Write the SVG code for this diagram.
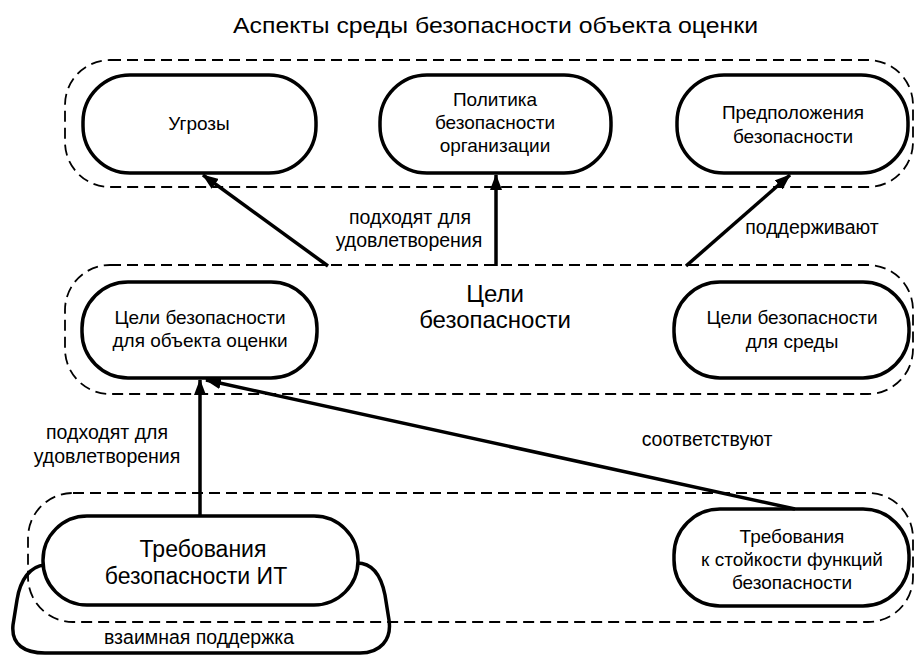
<svg xmlns="http://www.w3.org/2000/svg" width="916" height="656" viewBox="0 0 916 656">
<defs>
<style>
.bg{fill:#fff}
.grp{fill:none;stroke:#000;stroke-width:1.8;stroke-dasharray:11 6}
.node{fill:#fff;stroke:#000;stroke-width:3.5}
.outline{fill:none;stroke:#000;stroke-width:3.5}
.t{font-family:"Liberation Sans",Arial,sans-serif;fill:#000;text-anchor:middle}
.n{font-size:19px}
.l{font-size:19.5px}
.big{font-size:24px}
.it{font-size:23px}
.conn{stroke:#000;stroke-width:3.5;fill:none;marker-end:url(#ah)}
</style>
<marker id="ah" markerUnits="userSpaceOnUse" markerWidth="16" markerHeight="12" refX="15" refY="6" orient="auto">
<path d="M0,0 L16,6 L0,12 z" fill="#000"/>
</marker>
</defs>
<rect class="bg" x="0" y="0" width="916" height="656"/>
<text class="t" x="495.5" y="33" font-size="22" textLength="525" lengthAdjust="spacingAndGlyphs">Аспекты среды безопасности объекта оценки</text>

<g id="env">
<rect class="grp" x="65" y="60" width="848" height="127" rx="45" ry="45"/>
</g>
<g id="objectives">
<rect class="grp" x="65" y="265" width="848" height="129" rx="45" ry="45"/>
<text class="t big" x="495" y="302">Цели</text>
<text class="t big" x="495" y="328">безопасности</text>
</g>
<g id="requirements">
<rect class="grp" x="28" y="493" width="885" height="129" rx="45" ry="45"/>
</g>

<g id="mutual">
<path class="outline" d="M45,565 C30,566 20,580 17,600 L13,625 C11,645 25,653 45,653 L360,653 C380,653 392,640 389,620 L385,595 C381,575 372,563 357,563"/>
<text class="t l" x="199" y="644">взаимная поддержка</text>
</g>

<g id="threats">
<rect class="node" x="83" y="75" width="233" height="98" rx="47" ry="47"/>
<text class="t n" x="199" y="130">Угрозы</text>
</g>
<g id="policy">
<rect class="node" x="380" y="75" width="231" height="98" rx="47" ry="47"/>
<text class="t n" x="495" y="106">Политика</text>
<text class="t n" x="495" y="129">безопасности</text>
<text class="t n" x="495" y="152">организации</text>
</g>
<g id="assumptions">
<rect class="node" x="677" y="75" width="231" height="98" rx="47" ry="47"/>
<text class="t n" x="793" y="119">Предположения</text>
<text class="t n" x="793" y="143">безопасности</text>
</g>
<g id="toe-obj">
<rect class="node" x="82" y="282" width="235" height="96" rx="46" ry="46"/>
<text class="t n" x="200" y="324">Цели безопасности</text>
<text class="t n" x="200" y="347">для объекта оценки</text>
</g>
<g id="env-obj">
<rect class="node" x="674" y="282" width="235" height="96" rx="46" ry="46"/>
<text class="t n" x="792" y="324">Цели безопасности</text>
<text class="t n" x="792" y="348">для среды</text>
</g>
<g id="it-req">
<rect class="node" x="43" y="516" width="315" height="89" rx="44" ry="44"/>
<text class="t it" x="203" y="557">Требования</text>
<text class="t it" x="196" y="584">безопасности ИТ</text>
</g>
<g id="assurance-req">
<rect class="node" x="674" y="509" width="235" height="97" rx="46" ry="46"/>
<text class="t n" x="792" y="543">Требования</text>
<text class="t n" x="792" y="566">к стойкости функций</text>
<text class="t n" x="792" y="589">безопасности</text>
</g>

<g id="connectors">
<line class="conn" x1="328" y1="266" x2="203" y2="175"/>
<line class="conn" x1="496" y1="266" x2="496" y2="175"/>
<line class="conn" x1="686" y1="266" x2="790" y2="175"/>
<line class="conn" x1="200" y1="516" x2="200" y2="380"/>
<line class="conn" x1="795" y1="509" x2="206" y2="380"/>
<text class="t l" x="410" y="224">подходят для</text>
<text class="t l" x="409" y="247">удовлетворения</text>
<text class="t l" x="812" y="234">поддерживают</text>
<text class="t l" x="107" y="439">подходят для</text>
<text class="t l" x="107" y="463">удовлетворения</text>
<text class="t l" x="707" y="446">соответствуют</text>
</g>
</svg>
